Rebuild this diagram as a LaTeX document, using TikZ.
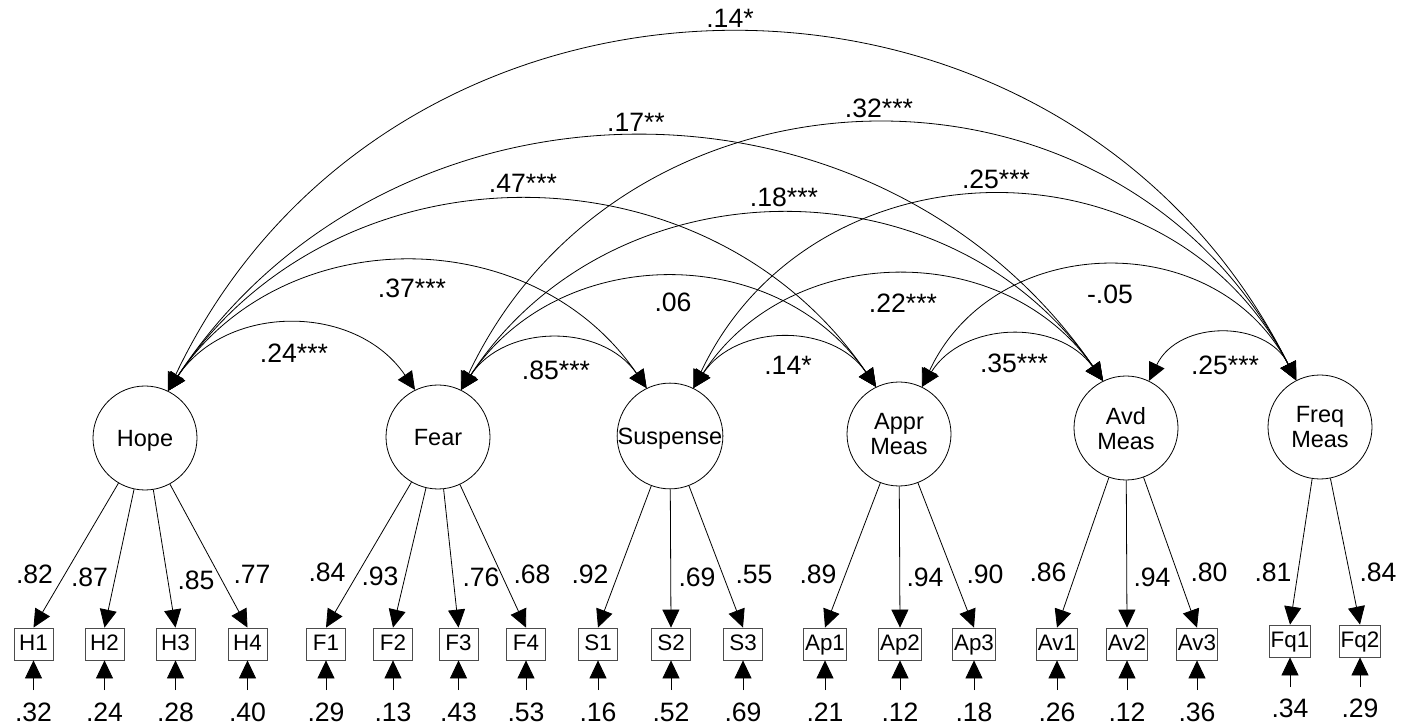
\documentclass[tikz,border=0pt]{standalone}
\usepackage{fontspec}
\setmainfont{Liberation Sans}
\usetikzlibrary{arrows.meta}
\begin{document}
\begin{tikzpicture}[x=0.5pt,y=-0.5pt,
  >={Triangle[length=9pt,width=8.5pt]},
  line width=0.4pt,
  lat/.style={circle,draw,minimum size=52pt,inner sep=0pt,align=center,
    text depth=0pt,font=\fontsize{11.75}{12.5}\selectfont},
  obs/.style={rectangle,draw=black!70,minimum width=19.5pt,minimum height=16pt,
    inner xsep=0.6pt,inner ysep=0pt,text height=0.62em,text depth=0pt,
    font=\fontsize{11.2}{12}\selectfont},
  num/.style={inner sep=0pt,text depth=0pt,font=\fontsize{13.3}{14}\selectfont},
  covA/.style={<->,bend left=56,looseness=1.09},
  covB/.style={<->,bend left=64,looseness=1.18},
  load/.style={->},
  err/.style={->}]
\useasboundingbox (0,0) rectangle (1401,726);

% latent factors
\node[lat] (Hope) at (145,438) {Hope};
\node[lat] (Fear) at (438,437) {Fear};
\node[lat] (Susp) at (670,436) {Suspense};
\node[lat] (Appr) at (899,434) {Appr\\Meas};
\node[lat] (Avd)  at (1126,428) {Avd\\Meas};
\node[lat] (Freq) at (1320,427) {Freq\\Meas};

% indicators: name / x / box y / factor / loading / loading label pos / residual / label y
\foreach \n/\x/\y/\f/\l/\lx/\ly/\e/\ey in {
  H1/33.5/644/Hope/.82/34.5/574.5/.32/712,
  H2/104.5/644/Hope/.87/89.5/577/.24/712,
  H3/175.5/644/Hope/.85/196/580/.28/712,
  H4/247.5/644/Hope/.77/252/574/.40/712,
  F1/326/644/Fear/.84/327/572.5/.29/712,
  F2/393/644/Fear/.93/380/576/.13/712,
  F3/458.5/644/Fear/.76/481/577/.43/712,
  F4/526/644/Fear/.68/532/574/.53/712,
  S1/598/644/Susp/.92/590/574/.16/712,
  S2/671/644/Susp/.69/697/577/.52/712,
  S3/743/644/Susp/.55/754/574/.69/712,
  Ap1/825/644/Appr/.89/818/574/.21/712,
  Ap2/900/644/Appr/.94/925/577/.12/712,
  Ap3/974/644/Appr/.90/985/574/.18/712,
  Av1/1057/644/Avd/.86/1048/572/.26/712,
  Av2/1127/644/Avd/.94/1152/577/.12/712,
  Av3/1197/644/Avd/.80/1209/572/.36/712,
  Fq1/1290/641/Freq/.81/1273/572/.34/708,
  Fq2/1360/641/Freq/.84/1378/572/.29/708}
{
  \node[obs] (\n) at (\x,\y) {\n};
  \draw[load] (\f) -- (\n.north);
  \node[num] (l\n) at (\lx,\ly) {\l};
  \coordinate (e\n) at (\x,\y+46);
  \draw[err] (e\n) -- (\n.south);
  \node[num] (r\n) at (\x,\ey) {\e};
}

% correlations between factors
\draw[covA] (Hope.64) to (Fear.116);
\draw[covA] (Hope.64) to (Susp.116);
\draw[covA] (Hope.64) to (Appr.116);
\draw[covA] (Hope.64) to (Avd.116);
\draw[covB] (Hope.64) to (Freq.117);
\draw[covA] (Fear.64) to (Susp.116);
\draw[covA] (Fear.64) to (Appr.116);
\draw[covA] (Fear.64) to (Avd.116);
\draw[covB] (Fear.64) to (Freq.117);
\draw[covA] (Susp.64) to (Appr.116);
\draw[covA] (Susp.64) to (Avd.116);
\draw[covB] (Susp.64) to (Freq.117);
\draw[covA] (Appr.64) to (Avd.116);
\draw[covB] (Appr.64) to (Freq.117);
\draw[covB] (Avd.64) to (Freq.117);

\node[num] (cHF)  at (294,353) {.24***};
\node[num] (cHS)  at (412,288) {.37***};
\node[num] (cHAp) at (523,183) {.47***};
\node[num] (cHAv) at (636,122) {.17**};
\node[num] (cHFq) at (730,18)  {.14*};
\node[num] (cFS)  at (556,370) {.85***};
\node[num] (cFAp) at (673,302) {.06};
\node[num] (cFAv) at (784,197) {.18***};
\node[num] (cFFq) at (879,108) {.32***};
\node[num] (cSAp) at (788,365) {.14*};
\node[num] (cSAv) at (903,303) {.22***};
\node[num] (cSFq) at (996,179) {.25***};
\node[num] (cApAv) at (1014,363) {.35***};
\node[num] (cApFq) at (1110,294) {-.05};
\node[num] (cAvFq) at (1225,365) {.25***};
\end{tikzpicture}
\end{document}
